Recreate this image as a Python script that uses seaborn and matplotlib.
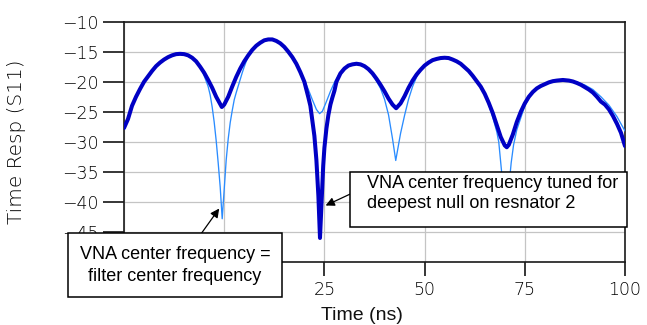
import matplotlib
matplotlib.use("Agg")
import matplotlib.pyplot as plt
from matplotlib.patches import Rectangle
import seaborn as sns

# Time-domain response of S11, resonator tuning (time in ns, response in dB)
time_tuned = [-25, -24, -23, -22, -21, -20, -19, -18, -17, -16, -15, -14, -13, -12, -11,
              -10, -9, -8, -7, -6, -5, -4, -3, -2, -1, -0.6, 0, 1, 2, 3, 4, 5, 6, 7, 8,
              9, 10, 11, 12, 13, 14, 15, 16, 17, 18, 19, 20, 21, 21.5, 22, 22.5, 23, 23.5,
              23.9, 24.3, 24.7, 25, 25.5, 26, 26.5, 27, 27.5, 28, 29, 30, 31, 32, 33, 34,
              35, 36, 37, 38, 39, 40, 41, 42, 42.9, 44, 45, 46, 47, 48, 49, 50, 51, 52, 53,
              54, 55, 56, 57, 58, 59, 60, 61, 62, 63, 64, 65, 66, 67, 68, 69, 70, 70.5, 71,
              72, 73, 74, 75, 76, 77, 78, 79, 80, 81, 82, 83, 84.5, 86, 87, 88, 89, 90, 91,
              92, 93, 94, 95, 96, 97, 98, 99, 100]
resp_tuned = [-27.7, -26.2, -24.0, -22.5, -21.2, -20.0, -19.1, -18.2, -17.4, -16.8, -16.3,
              -15.9, -15.6, -15.4, -15.35, -15.4, -15.6, -16.0, -16.6, -17.5, -18.5, -19.7,
              -21.0, -22.5, -23.7, -24.2, -23.8, -22.5, -20.8, -19.2, -17.8, -16.6, -15.6,
              -14.7, -14.0, -13.5, -13.1, -12.95, -12.95, -13.2, -13.6, -14.2, -15.0, -15.9,
              -17.0, -18.4, -20.0, -22.6, -24.0, -26.5, -29.0, -33.0, -39.0, -46.0, -40.0,
              -34.0, -31.0, -27.8, -25.5, -23.8, -22.6, -21.5, -20.0, -18.6, -17.8, -17.3,
              -17.1, -17.0, -17.1, -17.4, -17.9, -18.6, -19.5, -20.5, -21.6, -22.8, -23.8,
              -24.4, -23.6, -22.4, -21.0, -19.8, -18.8, -18.0, -17.3, -16.8, -16.4, -16.2,
              -16.05, -16.0, -16.05, -16.3, -16.6, -17.0, -17.6, -18.2, -19.0, -19.9, -20.8,
              -22.0, -23.5, -25.2, -27.2, -29.2, -30.6, -30.9, -30.5, -28.8, -26.7, -25.0,
              -23.6, -22.5, -21.7, -21.1, -20.7, -20.4, -20.1, -19.9, -19.8, -19.7, -19.8,
              -19.95, -20.2, -20.5, -20.9, -21.3, -21.8, -22.5, -23.3, -23.8, -24.6, -25.7,
              -27.0, -28.5, -30.7]

# Time-domain response with the VNA centred on the filter centre frequency
time_center = [-25, -24, -23, -22, -21, -20, -19, -18, -17, -16, -15, -14, -13, -12, -11,
               -10, -9, -8, -7, -6, -5.5, -5, -4.5, -4, -3.5, -3, -2.5, -2, -1.5, -1, -0.5,
               0, 0.5, 1, 1.5, 2, 2.5, 3, 3.5, 4, 4.5, 5, 5.5, 6, 7, 8, 9, 10, 11, 12, 13,
               14, 15, 16, 17, 18, 19, 20, 21, 22, 23, 23.8, 24.5, 25.5, 26.5, 27.5, 28.5,
               29.5, 30, 31, 32, 33, 34, 35, 36, 37, 38, 39, 40, 41, 42, 42.8, 43.5, 44, 45,
               46, 47, 48, 49, 50, 51, 52, 53, 54, 55, 56, 57, 58, 59, 60, 61, 62, 63, 64,
               65, 66, 67, 68, 68.5, 69, 69.5, 70.3, 71.1, 71.6, 72.2, 73, 74, 75, 76, 77,
               78, 79, 80, 81, 82, 83, 84.5, 86, 88, 90, 92, 94, 96, 98, 100]
resp_center = [-27.7, -26.2, -24.0, -22.5, -21.2, -20.0, -19.1, -18.2, -17.4, -16.8, -16.3,
               -15.9, -15.6, -15.4, -15.35, -15.4, -15.6, -16.0, -16.6, -17.5, -18.2, -19.0,
               -19.9, -20.8, -22.2, -24.2, -26.7, -29.8, -33.5, -37.5, -42.8, -38.0, -33.0,
               -29.5, -26.8, -24.8, -23.0, -21.8, -20.7, -19.6, -18.5, -17.5, -16.6, -15.8,
               -14.8, -14.0, -13.5, -13.1, -12.95, -12.95, -13.2, -13.6, -14.2, -15.0, -15.9,
               -17.0, -18.3, -19.7, -21.3, -23.0, -24.6, -25.3, -24.9, -23.3, -21.6, -20.1,
               -18.9, -18.0, -17.8, -17.3, -17.1, -17.0, -17.2, -17.5, -18.0, -18.8, -19.9,
               -21.1, -22.9, -25.5, -29.5, -33.1, -30.5, -28.6, -25.6, -22.9, -20.8, -19.2,
               -18.1, -17.3, -16.8, -16.4, -16.2, -16.05, -16.0, -16.05, -16.3, -16.6, -17.0,
               -17.6, -18.2, -19.0, -19.9, -20.9, -22.1, -23.8, -25.9, -28.3, -30.0, -33.5,
               -37.0, -40.0, -37.0, -33.5, -30.5, -28.0, -26.0, -24.0, -22.7, -21.7, -21.1,
               -20.7, -20.4, -20.1, -19.9, -19.8, -19.7, -19.75, -20.05, -20.55, -21.3, -22.5,
               -23.9, -25.8, -28.2]

x_ticks = [-25, 0, 25, 50, 75, 100]
x_tick_labels = ["", "", "25", "50", "75", "100"]
y_ticks = [-10, -15, -20, -25, -30, -35, -40, -45, -50]
y_tick_labels = ["\u221210", "\u221215", "\u221220", "\u221225", "\u221230",
                 "\u221235", "\u221240", "\u221245", ""]
x_label = "Time (ns)"
y_label = "Time Resp (S11)"
note_center = ["VNA center frequency =", "filter center frequency"]
note_tuned = ["VNA center frequency tuned for", "deepest null on resnator 2"]

sns.set_style("white")
plt.rcParams["font.family"] = ["DejaVu Sans"]

W, H = 647, 325
fig = plt.figure(figsize=(W / 100, H / 100), dpi=100)
left, right, top, bottom = 124, 625, 21.7, 262
ax = fig.add_axes([left / W, 1 - bottom / H, (right - left) / W, (bottom - top) / H])

sns.lineplot(x=time_center, y=resp_center, ax=ax, color="#2a8cff", linewidth=0.95,
             estimator=None, sort=False, zorder=3)
sns.lineplot(x=time_tuned, y=resp_tuned, ax=ax, color="#0000c4", linewidth=2.9,
             estimator=None, sort=False, zorder=4)

ax.set_xlim(x_ticks[0], x_ticks[-1])
ax.set_ylim(y_ticks[-1], y_ticks[0])
ax.set_xticks(x_ticks)
ax.set_xticklabels(x_tick_labels)
ax.set_yticks(y_ticks)
ax.set_yticklabels(y_tick_labels)
ax.set_axisbelow(True)
ax.grid(True, color="#c4c4c4", linewidth=0.9)
for s in ax.spines.values():
    s.set_visible(True)
    s.set_color("#1a1a1a")
    s.set_linewidth(1.2)

ax.tick_params(axis="y", direction="out", length=15, width=1.1, pad=3,
               labelsize=12.5, colors="#000000", left=True)
ax.tick_params(axis="x", direction="out", length=10, width=1.1, pad=4,
               labelsize=12.5, colors="#000000", bottom=True)
for lbl in ax.get_xticklabels() + ax.get_yticklabels():
    lbl.set_fontweight("light")

ax.set_xlabel(x_label, fontsize=14, family="Liberation Sans", color="#111111")
ax.xaxis.set_label_coords((362 - left) / (right - left), (bottom - 316) / (bottom - top))
ax.xaxis.label.set_verticalalignment("center")
ax.set_ylabel(y_label, fontsize=14.5, fontweight="light", color="#000000")
ax.yaxis.set_label_coords((17 - left) / (right - left), 0.5)
ax.yaxis.label.set_verticalalignment("center")


def px_box(x0, y0, x1, y1):
    rect = Rectangle((x0 / W, 1 - y1 / H), (x1 - x0) / W, (y1 - y0) / H,
                     transform=fig.transFigure, facecolor="white", edgecolor="black",
                     linewidth=1.1, zorder=9)
    fig.add_artist(rect)


def px_text(x, y, s, ha):
    fig.text(x / W, 1 - y / H, s, ha=ha, va="baseline", fontsize=13,
             family="Liberation Sans", color="black", zorder=10)


# Callout boxes
px_box(68, 233, 282, 297)
px_text(175, 259, note_center[0], "center")
px_text(175, 281, note_center[1], "center")

px_box(350, 172, 627, 227)
px_text(367, 188, note_tuned[0], "left")
px_text(367, 208, note_tuned[1], "left")

arrow = dict(arrowstyle="-|>", color="black", lw=0.9, mutation_scale=13,
             shrinkA=0, shrinkB=0)
ax.annotate("", xy=(-1.25, -41.1), xytext=(-5.65, -45.2), xycoords="data",
            textcoords="data", arrowprops=arrow, annotation_clip=False, zorder=6)
ax.annotate("", xy=(25.3, -40.6), xytext=(31.4, -38.7), xycoords="data",
            textcoords="data", arrowprops=arrow, annotation_clip=False, zorder=6)

fig.savefig("out.png", dpi=100)
